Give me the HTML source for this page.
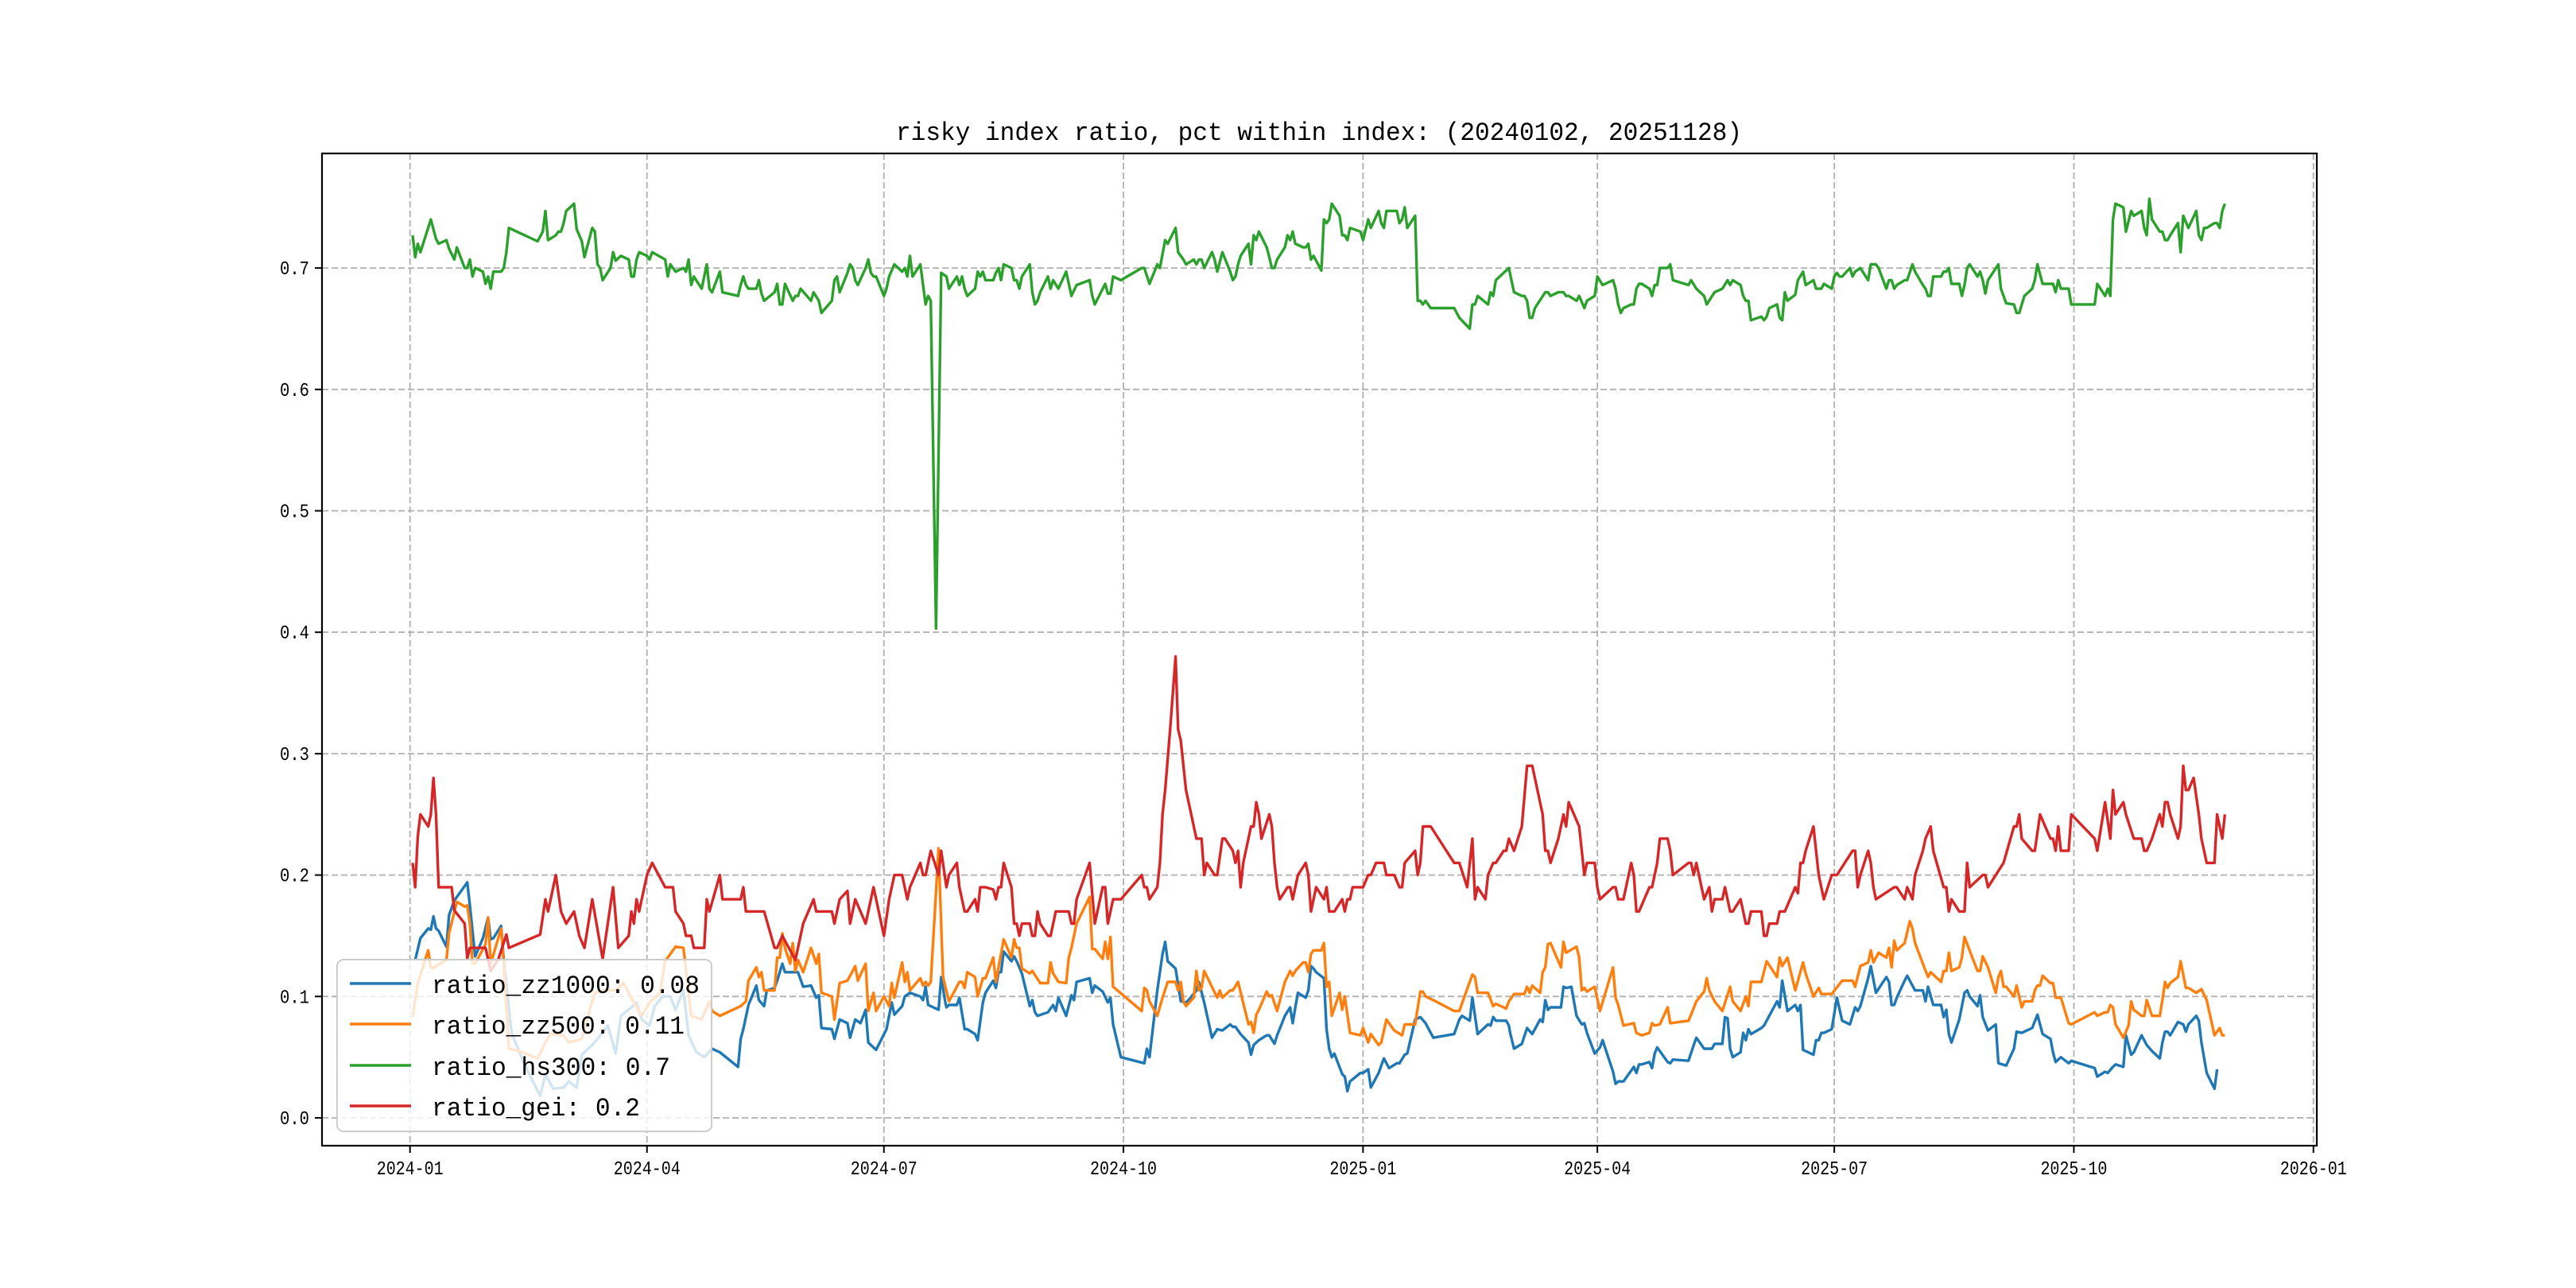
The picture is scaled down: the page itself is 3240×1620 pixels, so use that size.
<!DOCTYPE html>
<html><head><meta charset="utf-8"><title>risky index ratio</title>
<style>
html,body{margin:0;padding:0;background:#fff;}
svg{display:block;}
text{font-family:"Liberation Mono","DejaVu Sans Mono",monospace;fill:#000;}
</style></head>
<body>
<svg id="chart" width="3240" height="1620" viewBox="0 0 3240 1620" xmlns="http://www.w3.org/2000/svg">
<rect x="0" y="0" width="3240" height="1620" fill="#fff"/>
<text x="1659" y="176" font-size="32" text-anchor="middle" textLength="1064" lengthAdjust="spacingAndGlyphs">risky index ratio, pct within index: (20240102, 20251128)</text>
<g id="grid"></g>
<g id="plot"></g>
<rect x="405" y="193" width="2509" height="1248" fill="none" stroke="#000" stroke-width="2.2"/>
<g id="ticks"></g>
<g id="legend">
<rect x="424" y="1207" width="471" height="216" rx="8" fill="#fff" fill-opacity="0.8" stroke="#cccccc" stroke-width="2"/>
<line x1="440" y1="1237" x2="517" y2="1237" stroke="#1f77b4" stroke-width="3.5"/>
<text x="543" y="1249" font-size="32" textLength="337" lengthAdjust="spacingAndGlyphs">ratio_zz1000: 0.08</text>
<line x1="440" y1="1288" x2="517" y2="1288" stroke="#ff7f0e" stroke-width="3.5"/>
<text x="543" y="1300" font-size="32" textLength="318" lengthAdjust="spacingAndGlyphs">ratio_zz500: 0.11</text>
<line x1="440" y1="1340" x2="517" y2="1340" stroke="#2ca02c" stroke-width="3.5"/>
<text x="543" y="1352" font-size="32" textLength="300" lengthAdjust="spacingAndGlyphs">ratio_hs300: 0.7</text>
<line x1="440" y1="1391" x2="517" y2="1391" stroke="#d62728" stroke-width="3.5"/>
<text x="543" y="1403" font-size="32" textLength="262" lengthAdjust="spacingAndGlyphs">ratio_gei: 0.2</text>
</g>
</svg>
<script>
// x ticks: days since 2024-01-01
const xTickDays = [0, 91, 182, 274, 366, 456, 547, 639, 731];
const xTickLabels = ["2024-01","2024-04","2024-07","2024-10","2025-01","2025-04","2025-07","2025-10","2026-01"];
const yTickValues = [0.0, 0.1, 0.2, 0.3, 0.4, 0.5, 0.6, 0.7];
const yTickLabels = ["0.0","0.1","0.2","0.3","0.4","0.5","0.6","0.7"];

const zz1000Days = [2,4,7,8,9,10,11,14,15,17,22,23,25,28,30,31,32,35,36,39,44,50,52,55,59,61,64,66,70,72,76,79,81,85,87,89,92,94,97,100,102,105,107,110,113,116,119,126,127,128,130,133,134,136,137,140,141,143,144,149,151,154,156,157,158,162,163,165,168,169,171,173,175,176,179,183,185,186,189,190,192,196,197,198,199,203,204,205.6,206,207,210,211,213,214,217,218,220,221,224,225,226,227,228,231,232,233,235,238,239,240,241,245,247,248,249,252,254,255,256,261,262,263,266,268,269,270,273,282,283,284,287,289,290,291,294,296,298,299,302,303,305,308,310,312,315,316,317,318,319,322,323,324,326,329,330,332,333,336,338,339,340,341,344,345,346,347,348,351,352,353,354,355,358,359,360,361,365,366,368,369,372,374,376,379,380,382,383,386,388,390,393,401,403,404,407,408,410,414,415,416,417,421,422,422.5,424,427,429,431,434,435,436,437,438,442,443,444,446,448,450,451,452,455,457,458,462,463,464,466,470,471,472,473,476,477,478,479,483,484,485,491,493,494,497,500,501,504,505,506,507,508,511,512,513,514,515,519,520,522,525,526,527,529,532,533,534,535,539,540,541,542,543,546,548,550,553,555,556,557,560,561,563,567,568,569,570,571,574,575,577,578,581,582,583,585,588,589,590,591,592,595,597,598,599,602,603,604,606,609,610,613,616,617,619,623,625,627,630,631,632,634,637,638,647,648,651,652,654,655,658,659,661,662,665,667,669,672,673,674,675,676,679,681,682,683,686,687,688,690,693,694,697];
const zz1000Vals = [.13,.148,.156,.155,.166,.156,.154,.141,.167,.179,.194,.175,.133,.148,.165,.147,.148,.158,.13,.07,.044,.018,.036,.024,.025,.03,.025,.052,.06,.065,.076,.053,.084,.091,.095,.081,.076,.092,.1,.1,.089,.105,.068,.054,.05,.057,.054,.042,.065,.073,.093,.109,.097,.092,.105,.107,.113,.127,.12,.12,.108,.109,.099,.101,.074,.073,.065,.081,.078,.066,.081,.078,.089,.062,.056,.073,.095,.085,.092,.1,.103,.1,.097,.108,.093,.089,.116,.095,.091,.093,.093,.099,.073,.073,.069,.064,.095,.103,.113,.107,.12,.12,.137,.129,.133,.129,.119,.092,.097,.087,.084,.087,.093,.088,.099,.084,.101,.097,.112,.115,.103,.109,.104,.095,.099,.077,.05,.045,.057,.05,.105,.135,.145,.129,.123,.096,.095,.097,.105,.112,.095,.066,.073,.072,.077,.075,.075,.072,.069,.062,.052,.06,.064,.068,.068,.061,.068,.084,.091,.078,.091,.103,.099,.105,.125,.123,.12,.115,.073,.057,.05,.053,.036,.034,.022,.03,.037,.037,.04,.025,.037,.049,.041,.045,.045,.052,.053,.081,.083,.078,.066,.069,.081,.084,.08,.099,.069,.077,.076,.083,.08,.08,.076,.07,.057,.061,.074,.069,.081,.079,.097,.089,.091,.091,.108,.107,.108,.084,.077,.078,.07,.053,.058,.064,.038,.028,.03,.03,.042,.037,.044,.044,.046,.041,.053,.058,.046,.045,.048,.047,.06,.066,.057,.057,.061,.061,.083,.082,.057,.05,.054,.07,.064,.073,.069,.074,.076,.084,.096,.091,.113,.088,.093,.088,.093,.056,.052,.064,.064,.07,.07,.073,.099,.08,.077,.091,.088,.092,.115,.125,.103,.116,.112,.093,.093,.099,.113,.117,.109,.105,.105,.096,.108,.093,.093,.083,.089,.069,.062,.081,.103,.105,.1,.092,.101,.083,.072,.077,.045,.043,.057,.071,.07,.074,.085,.069,.065,.054,.046,.05,.045,.047,.041,.034,.038,.037,.042,.044,.042,.068,.052,.054,.068,.06,.055,.049,.062,.071,.071,.068,.079,.077,.071,.077,.084,.08,.062,.037,.024,.04];

const zz500Days = [1,3,7,8,9,10,14,15,18,21,22,23,24,25,29,30,31,35,36,38,42,49,52,54,59,61,66,69,71,75,79,82,86,89,92,96,98,102,105,107,108,112,115,116,119,127,129,130,133,134,135,136,140,141,142,143,144,146,147,148,149,151,154,156,157,158,162,163,165,168,170,171,172,175,176,178,179,182,184,185,186,189,190,191,192,196,197,198,199,200,203,204.7,207,211,212,213,214,217,218,220,221,224,225,228,231,232,233,234,235,238,239,242,245,246,247,249,252,253,254,256,261,262,263,266,267,268,269,270,281,282,283,284,287,289,291,294,295,296,297,298,301,302,303,304,305,310,311,312,315,316,318,322,323,324,325,326,329,330,331,333,336,338,339,340,343,344,345,346,347,350,351,352,353,354,357,358,359,361,365,366,368,369,372,373,375,378,381,382,386,388,389,390,393,401,403,408,409,410,414,416,417,421,422,424,428,429,430,431,434,435,436,437,438,442,443,444,448,449,450,451,452,455,457,462,463,464,466,470,471,473,476,477,478,480,483,484,491,492,494,497,498,499,501,504,507,508,511,513,514,515,519,521,525,526,527,529,532,535,536,539,541,542,546,550,554,555,557,560,561,562,564,567,568,569,570,571,574,576,577,578,581,583,584,588,589,590,591,592,595,596,597,600,602,603,604,606,609,610,611,612,613,616,617,619,620,623,624,625,626,627,630,631,632,634,637,638,647,648,651,652,653,654,655,658,660,661,662,665,666,667,669,672,673,674,675,676,679,680,682,683,686,688,690,693,695,696,697];
const zz500Vals = [.083,.111,.138,.124,.123,.125,.13,.152,.178,.174,.175,.16,.127,.127,.143,.165,.127,.156,.127,.057,.055,.049,.062,.069,.068,.062,.065,.089,.103,.105,.105,.111,.095,.084,.095,.103,.129,.141,.14,.103,.084,.081,.096,.088,.084,.092,.096,.113,.124,.116,.12,.105,.105,.132,.132,.152,.14,.127,.144,.121,.13,.12,.14,.127,.135,.103,.1,.081,.111,.113,.121,.125,.113,.127,.088,.103,.088,.1,.092,.111,.099,.128,.112,.12,.105,.115,.109,.112,.109,.112,.222,.116,.096,.112,.112,.107,.12,.116,.1,.115,.115,.132,.112,.147,.132,.147,.14,.14,.123,.119,.121,.111,.111,.128,.119,.112,.111,.132,.14,.16,.182,.139,.139,.131,.145,.131,.149,.108,.088,.107,.105,.096,.084,.099,.112,.112,.105,.112,.096,.092,.099,.121,.105,.107,.121,.099,.105,.099,.105,.105,.112,.077,.079,.07,.085,.089,.104,.1,.101,.088,.112,.121,.117,.121,.128,.128,.12,.135,.138,.138,.144,.108,.112,.084,.103,.089,.1,.07,.068,.074,.062,.069,.06,.062,.081,.072,.068,.077,.077,.104,.104,.1,.097,.088,.088,.118,.116,.103,.103,.092,.094,.09,.096,.102,.102,.108,.103,.109,.103,.12,.124,.143,.144,.124,.145,.136,.141,.132,.105,.107,.104,.108,.088,.124,.099,.093,.076,.078,.07,.068,.07,.078,.076,.077,.091,.078,.08,.085,.096,.104,.115,.105,.096,.088,.108,.096,.088,.1,.092,.112,.112,.129,.116,.132,.125,.132,.105,.128,.119,.1,.107,.102,.102,.113,.113,.108,.125,.128,.138,.128,.136,.132,.14,.124,.146,.138,.144,.162,.156,.144,.127,.116,.12,.112,.121,.121,.136,.121,.124,.132,.149,.132,.121,.121,.133,.124,.103,.116,.121,.108,.108,.1,.109,.091,.096,.096,.105,.109,.109,.117,.111,.111,.099,.099,.078,.077,.087,.084,.087,.087,.093,.091,.077,.066,.076,.096,.089,.084,.084,.097,.084,.084,.097,.112,.107,.111,.116,.129,.107,.107,.103,.106,.097,.068,.074,.068,.068];

const hs300Days = [1,2,3,4,8,10,11,14,15,17,18,21,22,23,24,25,28,29,30,31,32,35,36,37,38,49,51,52,53,56,57,58,59,60,63,64,65,66,67,70,71,72,73,74,77,78,79,81,84,85,86,87,88,91,92,93,98,99,100,102,105,106,107,108,109,112,114,115,116,119,120,126,127,128,129,130,133,134,135,136,140,141,142,143,144,147,148,149,150,154,155,157,158,162,163,164,165,168,169,170,171,172,175,176,177,178,179,182,183,184,186,189,190,191,192,193,196,198,199,200,202,204,206,207,210,211,212,213,214,217,218,219,220,221,224,225,226,227,228,231,232,233,234,235,238,239,240,241,242,245,246,247,249,252,254,256,261,262,263,267,268,269,270,273,281,282,284,287,288,290,291,294,295,297,298,301,302,303,304,305,308,309,310,312,315,316,317,318,319,322,323,324,325,326,329,330,331,332,333,336,337,338,339,340,343,344,345,346,347,350,351,352,353,354,357,358,359,360,361,365,366,368,369,372,373,374,375,379,380,381,382,383,386,387,388,389,390,392,401,403,407,408,409,410,414,415,416,417,422,424,427,428,429,430,431,432,436,437,438,441,443,444,445,448,449,451,452,455,456,458,462,463,464,465,466,469,470,471,472,473,476,477,478,479,480,483,484,485,491,492,494,497,498,501,504,506,507,508,511,512,513,514,515,519,520,521,522,525,526,527,528,529,532,533,535,536,539,540,542,543,546,547,548,549,550,553,554,555,557,560,561,563,564,567,568,569,570,571,574,575,577,578,581,582,583,584,585,588,589,590,591,592,595,596,597,598,599,602,603,604,605,606,610,611,613,616,617,618,620,623,624,625,627,631,632,633,634,637,638,647,648,651,652,653,654,655,658,659,661,662,665,666,667,668,669,672,673,674,675,676,679,680,681,683,686,687,688,689,690,693,694,695,696,697];
const hs300Vals = [.727,.709,.72,.713,.74,.724,.72,.723,.716,.707,.717,.7,.7,.707,.693,.7,.697,.687,.693,.683,.697,.697,.7,.713,.733,.722,.73,.747,.723,.727,.73,.73,.737,.747,.753,.732,.727,.722,.709,.733,.73,.703,.7,.69,.7,.713,.706,.71,.707,.693,.693,.707,.713,.71,.707,.713,.707,.693,.703,.697,.7,.697,.707,.686,.693,.683,.703,.683,.68,.697,.68,.677,.686,.693,.686,.683,.683,.69,.679,.673,.68,.687,.67,.67,.687,.673,.677,.677,.683,.673,.68,.673,.663,.673,.69,.693,.68,.696,.703,.7,.69,.686,.7,.707,.696,.693,.693,.677,.683,.693,.703,.697,.7,.693,.71,.693,.703,.67,.677,.673,.403,.696,.693,.683,.693,.686,.693,.683,.677,.683,.697,.693,.697,.69,.69,.696,.7,.69,.703,.7,.69,.69,.683,.693,.703,.68,.67,.673,.68,.693,.683,.69,.683,.697,.677,.686,.69,.677,.67,.687,.679,.679,.693,.69,.7,.7,.687,.703,.7,.723,.72,.733,.713,.707,.703,.707,.703,.707,.707,.7,.713,.707,.697,.713,.697,.69,.693,.703,.71,.72,.703,.727,.723,.73,.717,.709,.7,.7,.707,.717,.727,.723,.73,.72,.717,.717,.72,.707,.71,.698,.74,.737,.74,.753,.743,.727,.727,.723,.733,.73,.723,.74,.733,.747,.737,.733,.747,.747,.737,.74,.75,.733,.743,.673,.673,.67,.673,.667,.667,.659,.65,.67,.67,.677,.67,.68,.677,.69,.7,.68,.677,.677,.673,.659,.659,.667,.68,.68,.677,.68,.68,.677,.677,.673,.677,.667,.673,.677,.693,.686,.69,.683,.67,.663,.667,.67,.67,.683,.687,.687,.683,.677,.686,.686,.7,.7,.703,.69,.686,.69,.683,.677,.67,.68,.683,.69,.686,.69,.686,.677,.673,.673,.657,.66,.657,.66,.667,.67,.659,.657,.68,.673,.678,.69,.697,.686,.69,.683,.683,.687,.683,.693,.696,.693,.693,.7,.693,.697,.7,.69,.703,.703,.7,.683,.69,.69,.683,.686,.69,.69,.703,.697,.686,.683,.677,.677,.693,.693,.697,.697,.7,.687,.687,.677,.686,.7,.703,.693,.697,.69,.679,.69,.703,.683,.671,.67,.663,.663,.677,.683,.69,.703,.687,.687,.68,.69,.683,.683,.67,.67,.687,.677,.683,.677,.74,.753,.75,.73,.747,.743,.747,.733,.727,.757,.74,.73,.73,.723,.723,.727,.737,.713,.743,.733,.747,.727,.723,.733,.733,.737,.737,.733,.747,.753];

const geiDays = [1,2,3,4,7,8,9,10,11,16,17,21,22,23,29,31,34,37,38,50,52,53,56,58,60,63,65,67,70,74,78,80,84,85,86,87,88,91,93,98,101,102,105,106,108,109,113,114,115,119,120,127,128,129,136,140,141,143,148,151,155,156,162,163,165,168,169,171,175,177,178,182,184,186,189,191,192,196,197,198,200,203,204,206,207,210,211,213,214,217,218,219,221,224,225,226,227,228,231,232,233,234,235,238,239,240,241,242,245,246,248,253,254,255,256,261,263,266,267,268,270,273,281,282,283,284,287,288,289,290,292,294,295,296,298,302,304,305,306,309,310,312,313,316,317,318,319,320,323,324,325,326,327,330,331,332,333,334,337,338,339,341,344,345,346,348,351,352,353,355,358,359,360,361,362,366,368,369,371,374,375,378,380,381,382,386,387,388,389,392,401,403,406,408,409,410,413,414,416,417,420,421,422,424,427,429,431,435,436,437,438,441,442,443,444,445,449,450,451,452,455,456,457,462,463,464,466,469,470,471,472,476,477,479,480,483,484,485,491,492,493,494,497,499,500,501,504,505,507,508,511,512,513,514,515,519,520,521,522,525,526,528,532,533,534,535,536,539,541,543,546,548,554,555,556,557,560,561,562,563,570,571,574,575,577,578,581,582,584,585,589,590,591,592,595,597,598,599,604,605,606,609,612,616,617,618,619,623,624,626,630,631,632,633,634,637,638,647,648,651,653,654,655,658,659,662,665,666,667,669,672,673,674,675,676,679,680,681,682,683,685,687,688,690,693,694,696,697];
const geiVals = [.21,.19,.232,.25,.24,.25,.28,.25,.19,.19,.171,.16,.131,.14,.14,.121,.131,.151,.14,.151,.18,.17,.2,.17,.16,.17,.15,.14,.18,.131,.19,.14,.15,.17,.16,.18,.17,.2,.21,.19,.19,.17,.16,.15,.15,.14,.14,.18,.17,.2,.18,.18,.19,.17,.17,.14,.14,.15,.13,.16,.18,.17,.17,.16,.18,.187,.16,.18,.16,.18,.19,.15,.18,.2,.2,.18,.19,.21,.2,.2,.22,.2,.22,.19,.2,.21,.19,.17,.17,.18,.17,.19,.19,.188,.18,.19,.19,.21,.19,.16,.16,.15,.16,.16,.15,.15,.17,.16,.15,.15,.17,.17,.16,.16,.18,.21,.16,.19,.19,.16,.18,.18,.2,.19,.19,.18,.19,.21,.25,.27,.322,.38,.32,.311,.27,.23,.23,.2,.21,.2,.2,.23,.23,.22,.21,.22,.19,.21,.24,.24,.26,.25,.23,.25,.24,.21,.19,.18,.19,.19,.18,.2,.21,.2,.17,.19,.18,.19,.17,.17,.18,.17,.18,.18,.19,.19,.2,.2,.21,.21,.2,.2,.19,.19,.21,.22,.2,.21,.24,.24,.21,.21,.19,.23,.18,.19,.18,.2,.21,.21,.22,.22,.23,.22,.24,.29,.29,.25,.22,.22,.21,.23,.24,.25,.24,.26,.24,.22,.2,.21,.21,.19,.18,.19,.19,.18,.18,.21,.2,.17,.17,.19,.19,.21,.23,.23,.22,.2,.21,.21,.2,.21,.18,.19,.17,.18,.18,.19,.17,.17,.18,.17,.16,.16,.17,.17,.15,.15,.16,.16,.17,.17,.19,.185,.21,.21,.22,.24,.2,.18,.2,.2,.22,.22,.19,.2,.22,.21,.19,.18,.19,.19,.18,.19,.18,.2,.22,.23,.24,.22,.19,.19,.17,.18,.17,.17,.21,.19,.2,.2,.19,.2,.21,.24,.24,.25,.23,.22,.22,.25,.23,.23,.22,.24,.22,.22,.25,.23,.22,.26,.23,.27,.25,.26,.25,.23,.23,.22,.22,.23,.25,.24,.26,.26,.25,.23,.24,.29,.27,.27,.28,.25,.23,.21,.21,.25,.23,.25,.25];

const xMinDay = -33.8, xMaxDay = 732.3;
const plotLeft = 405, plotRight = 2914, plotTop = 193, plotBottom = 1441;
const yZero = 1406, yPerUnit = 1527;
function xScale(d){ return plotLeft + (d - xMinDay) / (xMaxDay - xMinDay) * (plotRight - plotLeft); }
function yScale(v){ return yZero - v * yPerUnit; }

const NS = "http://www.w3.org/2000/svg";
const grid = document.getElementById('grid');
const ticks = document.getElementById('ticks');
const plot = document.getElementById('plot');

xTickDays.forEach((d, i) => {
  const x = xScale(d);
  const gl = document.createElementNS(NS, 'line');
  gl.setAttribute('x1', x); gl.setAttribute('x2', x);
  gl.setAttribute('y1', plotTop); gl.setAttribute('y2', plotBottom);
  gl.setAttribute('stroke', '#b0b0b0'); gl.setAttribute('stroke-width', '1.8'); gl.setAttribute('stroke-dasharray', '8,4');
  
  
  grid.appendChild(gl);
  const tk = document.createElementNS(NS, 'line');
  tk.setAttribute('x1', x); tk.setAttribute('x2', x);
  tk.setAttribute('y1', plotBottom); tk.setAttribute('y2', plotBottom + 9);
  tk.setAttribute('stroke', '#000'); tk.setAttribute('stroke-width', '2');
  
  
  ticks.appendChild(tk);
  const tx = document.createElementNS(NS, 'text');
  tx.setAttribute('x', x); tx.setAttribute('y', 1477);
  tx.setAttribute('font-size', '24'); tx.setAttribute('text-anchor', 'middle');
  tx.setAttribute('textLength', '84'); tx.setAttribute('lengthAdjust', 'spacingAndGlyphs');
  tx.textContent = xTickLabels[i];
  
  
  ticks.appendChild(tx);
});

yTickValues.forEach((v, i) => {
  const y = yScale(v);
  const gl = document.createElementNS(NS, 'line');
  gl.setAttribute('x1', plotLeft); gl.setAttribute('x2', plotRight);
  gl.setAttribute('y1', y); gl.setAttribute('y2', y);
  gl.setAttribute('stroke', '#b0b0b0'); gl.setAttribute('stroke-width', '1.8'); gl.setAttribute('stroke-dasharray', '8,4');
  
  
  grid.appendChild(gl);
  const tk = document.createElementNS(NS, 'line');
  tk.setAttribute('x1', plotLeft - 9); tk.setAttribute('x2', plotLeft);
  tk.setAttribute('y1', y); tk.setAttribute('y2', y);
  tk.setAttribute('stroke', '#000'); tk.setAttribute('stroke-width', '2');
  
  
  ticks.appendChild(tk);
  const tx = document.createElementNS(NS, 'text');
  tx.setAttribute('x', plotLeft - 16); tx.setAttribute('y', y + 8);
  tx.setAttribute('font-size', '24'); tx.setAttribute('text-anchor', 'end');
  tx.setAttribute('textLength', '37'); tx.setAttribute('lengthAdjust', 'spacingAndGlyphs');
  tx.textContent = yTickLabels[i];
  
  
  ticks.appendChild(tx);
});

function drawSeries(days, vals, color, name){
  let d = '';
  for (let i = 0; i < days.length && i < vals.length; i++){
    d += (i ? 'L' : 'M') + xScale(days[i]).toFixed(1) + ',' + yScale(vals[i]).toFixed(1);
  }
  const p = document.createElementNS(NS, 'path');
  p.setAttribute('d', d);
  p.setAttribute('fill', 'none'); p.setAttribute('stroke', color);
  p.setAttribute('stroke-width', '3.4'); p.setAttribute('stroke-linejoin', 'round');
  
  
  plot.appendChild(p);
}
drawSeries(zz1000Days, zz1000Vals, '#1f77b4', 'series-zz1000');
drawSeries(zz500Days, zz500Vals, '#ff7f0e', 'series-zz500');
drawSeries(hs300Days, hs300Vals, '#2ca02c', 'series-hs300');
drawSeries(geiDays, geiVals, '#d62728', 'series-gei');
</script>
</body></html>
